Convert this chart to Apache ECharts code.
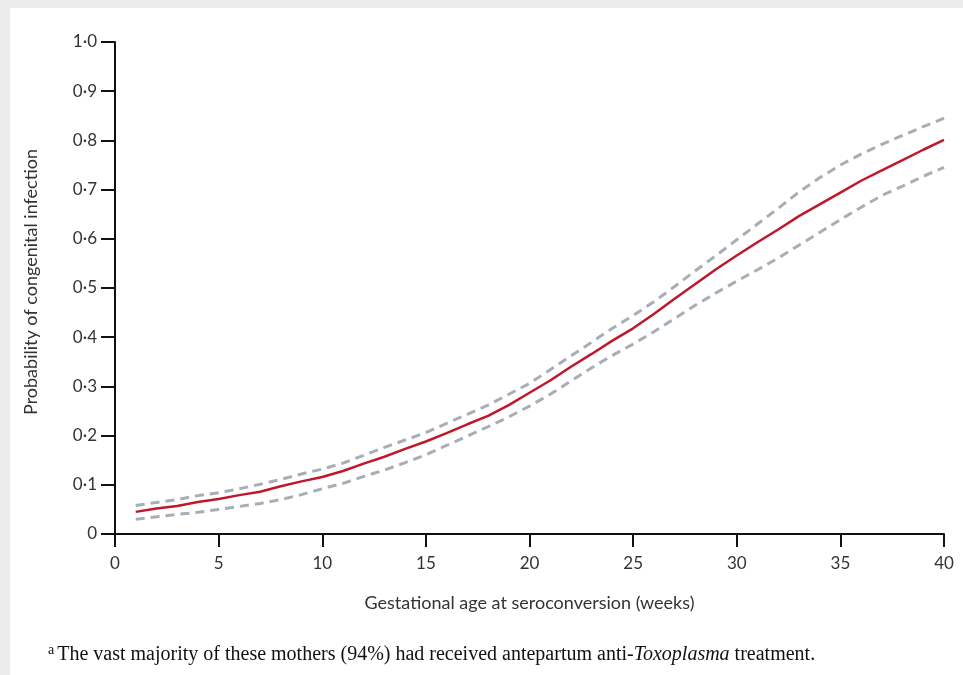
<!DOCTYPE html>
<html>
<head>
<meta charset="utf-8">
<script src="https://cdn.jsdelivr.net/npm/echarts@6/dist/echarts.min.js"></script>
<style>
  html, body { margin: 0; padding: 0; background: #ececec; }
  #card { position: absolute; left: 10px; top: 8px; width: 953px; height: 667px; background: #fff; }
  #chart { position: absolute; left: 0; top: 0; width: 963px; height: 675px; }
</style>
</head>
<body>
<div id="card"></div>
<div id="chart"></div>
<script>
// gestational age at seroconversion (weeks)
var weeks = [1, 2, 3, 4, 5, 6, 7, 8, 9, 10, 11, 12, 13, 14, 15, 16, 17, 18, 19, 20,
  21, 22, 23, 24, 25, 26, 27, 28, 29, 30, 31, 32, 33, 34, 35, 36, 37, 38, 39, 40];
// probability of congenital infection
var risk = [0.045, 0.052, 0.057, 0.065, 0.071, 0.079, 0.086, 0.097, 0.107, 0.116,
  0.128, 0.143, 0.157, 0.173, 0.188, 0.205, 0.223, 0.240, 0.262, 0.287,
  0.312, 0.340, 0.366, 0.393, 0.418, 0.447, 0.478, 0.508, 0.538, 0.566,
  0.593, 0.619, 0.646, 0.670, 0.694, 0.718, 0.739, 0.760, 0.781, 0.801];
var upper = [0.058, 0.064, 0.070, 0.078, 0.084, 0.092, 0.101, 0.111, 0.122, 0.132,
  0.144, 0.160, 0.176, 0.191, 0.206, 0.225, 0.243, 0.262, 0.284, 0.306,
  0.334, 0.362, 0.390, 0.418, 0.444, 0.472, 0.503, 0.535, 0.566, 0.598,
  0.630, 0.662, 0.695, 0.724, 0.750, 0.772, 0.792, 0.810, 0.828, 0.845];
var lower = [0.030, 0.035, 0.040, 0.044, 0.050, 0.056, 0.062, 0.070, 0.080, 0.092,
  0.103, 0.117, 0.130, 0.145, 0.161, 0.180, 0.199, 0.218, 0.238, 0.260,
  0.284, 0.311, 0.338, 0.363, 0.386, 0.411, 0.438, 0.465, 0.490, 0.514,
  0.537, 0.561, 0.587, 0.613, 0.639, 0.664, 0.688, 0.707, 0.727, 0.745];

function pairs(vals) {
  return weeks.map(function (w, i) { return [w, vals[i]]; });
}

var chart = echarts.init(document.getElementById('chart'));
var axisFont = 'Lato, "Open Sans", sans-serif';
var dashStyle = { color: '#a6afb6', width: 3, type: [9, 6] };

var option = {
  animation: false,
  grid: { left: 115, right: 19, top: 42, bottom: 141 },
  xAxis: {
    type: 'value',
    min: 0, max: 40, interval: 5,
    name: 'Gestational age at seroconversion (weeks)',
    nameLocation: 'middle',
    nameGap: 60,
    nameTextStyle: { fontFamily: axisFont, fontSize: 18, color: '#333' },
    axisLine: { lineStyle: { color: '#111', width: 2 } },
    axisTick: { length: 13, lineStyle: { color: '#111', width: 2 } },
    axisLabel: { margin: 21, fontFamily: axisFont, fontSize: 17, color: '#333' },
    splitLine: { show: false }
  },
  yAxis: {
    type: 'value',
    min: 0, max: 1, interval: 0.1,
    name: 'Probability of congenital infection',
    nameLocation: 'middle',
    nameGap: 75,
    nameTextStyle: { fontFamily: axisFont, fontSize: 18, color: '#333', padding: [0, 0, 0, 12] },
    axisLine: { lineStyle: { color: '#111', width: 2 } },
    axisTick: { length: 14, lineStyle: { color: '#111', width: 2 } },
    axisLabel: {
      margin: 18, fontFamily: axisFont, fontSize: 17, color: '#333',
      formatter: function (v) { return v === 0 ? '0' : v.toFixed(1).replace('.', '\u00b7'); }
    },
    splitLine: { show: false }
  },
  series: [
    { name: 'upper', type: 'line', data: pairs(upper), showSymbol: false, lineStyle: dashStyle, z: 2 },
    { name: 'lower', type: 'line', data: pairs(lower), showSymbol: false, lineStyle: dashStyle, z: 2 },
    { name: 'risk', type: 'line', data: pairs(risk), showSymbol: false,
      lineStyle: { color: '#c0172b', width: 2.5 }, z: 3 }
  ],
  graphic: [
    {
      type: 'text',
      left: 48,
      top: 643,
      style: {
        text: '{sup|a}{n|The vast majority of these mothers (94%) had received antepartum anti-}{i|Toxoplasma}{n| treatment.}',
        rich: {
          sup: { fontFamily: '"Liberation Serif", serif', fontSize: 14, verticalAlign: 'top', padding: [0, 3, 9, 0], fill: '#111' },
          n: { fontFamily: '"Liberation Serif", serif', fontSize: 20, fill: '#111' },
          i: { fontFamily: '"Liberation Serif", serif', fontSize: 20, fontStyle: 'italic', fill: '#111' }
        }
      }
    }
  ]
};

chart.setOption(option);
</script>
</body>
</html>
